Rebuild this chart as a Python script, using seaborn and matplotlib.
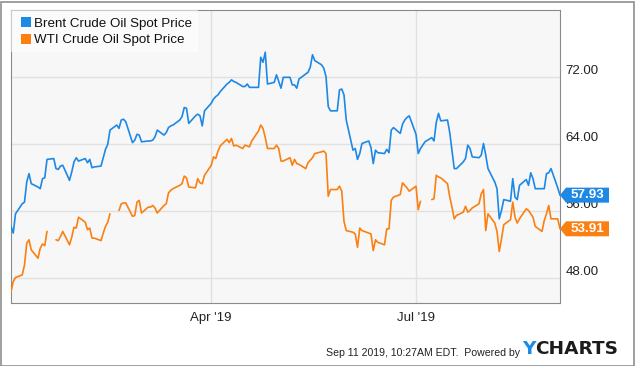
import numpy as np
import pandas as pd
import matplotlib
matplotlib.use("Agg")
import matplotlib.pyplot as plt
import matplotlib.transforms as mtrans
from matplotlib.patches import Polygon, Rectangle
from matplotlib.lines import Line2D
import seaborn as sns

nan = np.nan

# ---------------- data (daily spot prices, business days) ----------------
start_date = "2019-01-02"
end_date = "2019-09-03"

brent_jan = [54.2, 53.4, 55.7, 56.9, 57.1, 59.5, 60.5, 59.3, 58.9, 58.7, 59.9, 60.0, 62.2, 62.3, 61.1,
             61.0, 61.4, 61.5, 59.7, 60.7, 61.9, 62.4]
brent_feb = [62.0, 62.3, 61.8, 62.2, 61.2, 61.3, 61.4, 62.4, 63.4, 64.0, 65.7, 66.3, 65.9, 66.9, 67.0,
             66.7, 64.2, 64.5, 65.2, 65.1]
brent_mar = [64.3, 64.4, 64.4, 64.5, 64.9, 65.7, 65.1, 65.4, 66.0, 66.2, 66.3, 66.9, 67.3, 68.4, 68.3,
             66.5, 67.4, 67.6, 67.4, 66.2, 68.0]
brent_apr = [68.9, 69.4, 69.7, 69.9, 70.3, 71.2, 71.4, 71.7, 71.5, 71.4, 70.9, 70.9, 71.2, 70.8, 70.8,
             70.8, 74.4, 73.8, 75.0, 71.2, 71.4, 72.3]
brent_may = [71.5, 70.7, 72.0, 72.0, 71.1, 71.1, 70.7, 71.8, 72.4, 72.6, 73.2, 74.7, 74.0, 73.5, 73.1,
             72.1, 68.5, 68.0, 68.0, 70.5, 70.6, 69.9, 66.9]
brent_jun = [63.3, 63.5, 62.2, 62.9, 64.1, 64.4, 63.6, 61.7, 63.3, 63.0, 62.9, 63.4, 63.0, 65.7, 66.0,
             65.3, 66.4, 66.9, 67.2, 67.4]
brent_jul = [65.2, 62.9, 63.5, 63.9, 64.3, 64.8, 64.4, 66.6, 67.7, 66.8, 66.9, 65.4, 63.2, 61.1, 61.1,
             61.9, 62.3, 63.9, 63.5, 62.5, 62.4, 62.7, 64.1]
brent_aug = [62.7, 61.1, 59.5, 58.7, 55.1, 56.1, 57.4, 57.2, 59.9, 57.7, 57.4, 59.1, 59.8, 59.1, 60.6,
             59.9, 58.7, 58.7, 58.7, 60.5, 60.6, 61.1]
brent_sep = [58.8, 57.93]

wti_jan = [46.4, 47.6, 48.1, 48.4, 49.6, 52.2, 52.6, 51.4, 50.4, 51.6, 52.1, 51.9, 53.6, nan, 52.6,
           52.5, 53.0, 53.6, 52.0, 52.9, 54.1, 54.0]
wti_feb = [55.3, 54.7, 53.8, 54.0, 52.8, 52.8, 52.5, 53.4, 54.2, 54.7, 55.7, nan, 56.1, 56.9, 57.0,
           57.0, 55.4, 55.5, 57.1, 57.3]
wti_mar = [55.8, 56.5, 56.5, 56.7, 56.4, 55.8, 56.7, 56.9, 58.2, 58.5, 58.7, 59.1, 59.3, 60.2, 60.0,
           58.9, 58.8, 59.9, 59.4, 59.3, 60.3]
wti_apr = [61.5, 62.5, 62.3, 63.2, 63.8, 64.6, 64.2, 64.7, 63.8, 63.9, 63.5, 63.9, 63.8, 63.7, 64.4,
           65.6, 66.3, 65.9, 64.8, 63.5, 63.5, 63.9]
wti_may = [63.5, 62.0, 62.0, 62.4, 61.5, 62.2, 61.7, 61.6, 61.1, 61.8, 62.1, 62.4, 62.9, 63.1, 63.2,
           62.9, 57.8, 58.6, 58.6, 59.0, 58.4, 54.8, 53.7]
wti_jun = [53.5, 53.3, 51.7, 54.0, 53.7, 53.4, 53.3, 51.3, 52.6, 52.3, 52.0, 53.9, 53.9, 57.3, 57.7,
           58.0, 59.4, 59.1, 58.8, 58.4]
wti_jul = [59.0, 56.2, 57.2, nan, nan, 57.4, 57.5, 60.3, 60.1, 60.0, 59.3, 57.7, 56.5, 55.1, 55.5,
           55.9, 56.6, 55.9, 56.1, 56.4, 56.9, 58.1, 58.6]
wti_aug = [53.7, 55.7, 54.6, 53.6, 51.2, 52.7, 54.4, 55.0, 57.1, 55.3, 54.6, 55.1, 56.3, 56.1, 55.7,
           55.3, 54.2, 53.6, 54.9, 55.7, 56.7, 55.1]
wti_sep = [55.1, 53.91]

series_names = ["Brent Crude Oil Spot Price", "WTI Crude Oil Spot Price"]
series_colors = ["#1e88e5", "#fb8011"]

ytick_values = [48, 56, 64, 72]
xtick_dates = ["2019-04-01", "2019-07-01"]
xtick_labels = ["Apr '19", "Jul '19"]
y_limits = (45.05, 80.04)

footer_text = "Sep 11 2019, 10:27AM EDT.  Powered by"

# ---------------- assemble ----------------
dates = pd.bdate_range(start_date, end_date)
brent = brent_jan + brent_feb + brent_mar + brent_apr + brent_may + brent_jun + brent_jul + brent_aug + brent_sep
wti = wti_jan + wti_feb + wti_mar + wti_apr + wti_may + wti_jun + wti_jul + wti_aug + wti_sep

brent_df = pd.DataFrame({"date": dates, "price": brent})
wti_df = pd.DataFrame({"date": dates, "price": wti})
wti_df["seg"] = wti_df["price"].isna().cumsum()
wti_df = wti_df.dropna()

# ---------------- style ----------------
sns.set_theme(style="white")
plt.rcParams["font.family"] = ["Liberation Sans", "DejaVu Sans"]

W, H = 635, 366
fig = plt.figure(figsize=(W / 100, H / 100), dpi=100)
fig.patch.set_facecolor("white")
ax = fig.add_axes([11 / W, (H - 303) / H, (560 - 11) / W, (303 - 10) / H])
ax.set_facecolor("#f7f7f7")

sns.lineplot(data=brent_df, x="date", y="price", color=series_colors[0], lw=1.2, ax=ax, zorder=3)
sns.lineplot(data=wti_df, x="date", y="price", units="seg", estimator=None,
             color=series_colors[1], lw=1.2, ax=ax, zorder=3)

ax.set_xlim(pd.Timestamp(start_date), pd.Timestamp(end_date))
ax.set_ylim(*y_limits)
ax.set_xlabel("")
ax.set_ylabel("")

ax.set_yticks(ytick_values, labels=[f"{v:.2f}" for v in ytick_values])
ax.set_xticks([pd.Timestamp(d) for d in xtick_dates], labels=xtick_labels)
ax.yaxis.tick_right()
ax.tick_params(axis="y", length=0, pad=4, labelsize=9.5, labelcolor="#222222")
ax.tick_params(axis="x", length=0, pad=6.5, labelsize=9.5, labelcolor="#222222")
for t in ax.get_yticklabels():
    t.set_verticalalignment("bottom")

ax.grid(True, color="#e1e1e1", lw=1.0)
ax.set_axisbelow(True)
for s in ax.spines.values():
    s.set_visible(True)
    s.set_color("#8a8a8a")
    s.set_linewidth(0.8)

# legend
ax.add_patch(Rectangle((0, 1 - 42 / 293), 187 / 549, 42 / 293, transform=ax.transAxes,
                       facecolor="white", alpha=0.55, edgecolor="none", zorder=4))
handles = [Line2D([], [], marker="s", linestyle="none", markersize=6.6,
                  markeredgewidth=0, color=c) for c in series_colors]
leg = ax.legend(handles, series_names, loc="upper left",
                bbox_to_anchor=(9.5 / 549, 1 - 7.5 / 293), borderaxespad=0, borderpad=0,
                frameon=False, fontsize=9.6, handlelength=0.75, handletextpad=0.3,
                labelspacing=0.3)
leg.set_zorder(5)
for txt in leg.get_texts():
    txt.set_color("#111111")

# end-value tags
blend = mtrans.blended_transform_factory(ax.transAxes, ax.transData)
for val, col in [(brent[-1], series_colors[0]), (wti[-1], series_colors[1])]:
    tr = mtrans.Affine2D() + mtrans.ScaledTranslation(1.0, val, blend)
    poly = Polygon([(0, 0), (6, 7.5), (49, 7.5), (49, -7.5), (6, -7.5)], closed=True,
                   transform=tr, facecolor=col, edgecolor="none", clip_on=False, zorder=10)
    ax.add_patch(poly)
    ax.annotate(f"{val:.2f}", xy=(1.0, val), xycoords=blend, xytext=(27, 0),
                textcoords="offset pixels", ha="center", va="center", color="white",
                fontweight="bold", fontsize=9.6, annotation_clip=False, zorder=11)

# footer
fig.text(520 / W, 1 - 353 / H, footer_text, ha="right", va="center", fontsize=7.6, color="#222222")
fig.text(522 / W, 1 - 349.5 / H, "Y", ha="left", va="center", fontsize=13.3, fontweight="bold",
         color="#1a8be6", family="DejaVu Sans")
fig.text(535 / W, 1 - 349.5 / H, "CHARTS", ha="left", va="center", fontsize=13.3, fontweight="bold",
         color="#1b1b1b", family="DejaVu Sans")

# outer border
fig.add_artist(Rectangle((0.5 / W, 0.5 / H), 1 - 2 / W, 1 - 2 / H, transform=fig.transFigure,
                         fill=False, edgecolor="#8f8f8f", lw=1.2))

fig.savefig("out.png", dpi=100)
